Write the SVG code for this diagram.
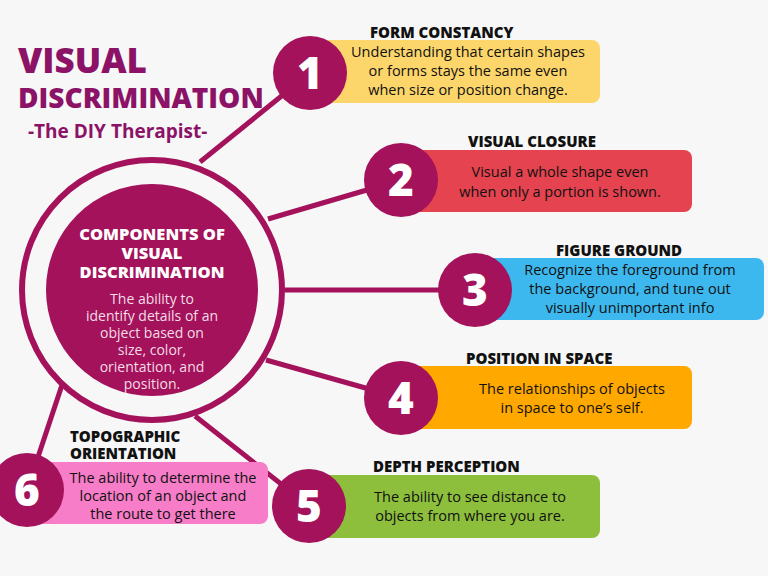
<svg xmlns="http://www.w3.org/2000/svg" width="768" height="576" viewBox="0 0 768 576">
<style>
.t{font-family:"Open Sans","Liberation Sans",sans-serif;}
.h{font-family:"Open Sans","Liberation Sans",sans-serif;font-weight:800;font-size:15px;fill:#111;}
.b{font-family:"Open Sans","Liberation Sans",sans-serif;font-size:14.5px;fill:#111;text-anchor:middle;}
.n{font-family:"Open Sans","Liberation Sans",sans-serif;font-weight:800;font-size:44px;fill:#fff;text-anchor:middle;}
.c{fill:#A3125A;}
.ln{stroke:#A3125A;stroke-width:5;fill:none;}
</style>
<rect width="768" height="576" fill="#F7F7F7"/>
<g id="title" class="t" fill="#8B1266" font-weight="800">
<text x="18" y="73" font-size="35">VISUAL</text>
<text x="18" y="108" font-size="28">DISCRIMINATION</text>
<text x="28" y="138" font-size="19" font-weight="700">-The DIY Therapist-</text>
</g>
<g id="connectors">
<line class="ln" x1="310" y1="73" x2="200" y2="162"/>
<line class="ln" x1="401" y1="180" x2="268" y2="219"/>
<line class="ln" x1="475" y1="290" x2="285" y2="290"/>
<line class="ln" x1="401" y1="398" x2="266" y2="360"/>
<line class="ln" x1="309" y1="506" x2="195" y2="416"/>
<line class="ln" x1="27" y1="490" x2="62" y2="385"/>
</g>
<g id="center">
<circle cx="152" cy="290" r="130" fill="#F7F7F7" stroke="#A3125A" stroke-width="6"/>
<circle class="c" cx="152" cy="290" r="106"/>
<text class="t" fill="#fff" font-weight="800" font-size="16.5" text-anchor="middle"><tspan x="152" y="240">COMPONENTS OF</tspan><tspan x="152" y="259">VISUAL</tspan><tspan x="152" y="278">DISCRIMINATION</tspan></text>
<text class="t" fill="#F3DCE7" font-size="14" text-anchor="middle"><tspan x="152" y="304">The ability to</tspan><tspan x="152" y="321">identify details of an</tspan><tspan x="152" y="338">object based on</tspan><tspan x="152" y="355">size, color,</tspan><tspan x="152" y="372">orientation, and</tspan><tspan x="152" y="389">position.</tspan></text>
</g>
<g id="n1">
<rect x="320" y="40" width="280" height="63" rx="8" fill="#FDD66B"/>
<text class="h" x="370" y="38">FORM CONSTANCY</text>
<text class="b"><tspan x="468" y="57">Understanding that certain shapes</tspan><tspan x="468" y="76">or forms stays the same even</tspan><tspan x="468" y="95">when size or position change.</tspan></text>
<circle class="c" cx="310" cy="73" r="37"/><text class="n" x="310" y="89">1</text>
</g>
<g id="n2">
<rect x="410" y="150" width="282" height="62" rx="8" fill="#E4434F"/>
<text class="h" x="468" y="147">VISUAL CLOSURE</text>
<text class="b"><tspan x="560" y="177">Visual a whole shape even</tspan><tspan x="560" y="197">when only a portion is shown.</tspan></text>
<circle class="c" cx="401" cy="180" r="37"/><text class="n" x="401" y="196">2</text>
</g>
<g id="n3">
<rect x="485" y="258" width="279" height="62" rx="8" fill="#3DB8EE"/>
<text class="h" x="556" y="256">FIGURE GROUND</text>
<text class="b"><tspan x="630" y="275">Recognize the foreground from</tspan><tspan x="630" y="294">the background, and tune out</tspan><tspan x="630" y="313">visually unimportant info</tspan></text>
<circle class="c" cx="475" cy="290" r="37"/><text class="n" x="475" y="306">3</text>
</g>
<g id="n4">
<rect x="410" y="366" width="282" height="63" rx="8" fill="#FFA800"/>
<text class="h" x="466" y="364">POSITION IN SPACE</text>
<text class="b"><tspan x="572" y="394">The relationships of objects</tspan><tspan x="572" y="413">in space to one’s self.</tspan></text>
<circle class="c" cx="401" cy="398" r="37"/><text class="n" x="401" y="414">4</text>
</g>
<g id="n5">
<rect x="320" y="475" width="280" height="63" rx="8" fill="#8DBF3D"/>
<text class="h" x="373" y="472">DEPTH PERCEPTION</text>
<text class="b"><tspan x="470" y="502">The ability to see distance to</tspan><tspan x="470" y="521">objects from where you are.</tspan></text>
<circle class="c" cx="309" cy="506" r="37"/><text class="n" x="309" y="522">5</text>
</g>
<g id="n6">
<rect x="35" y="462" width="233" height="62" rx="8" fill="#F77DC8"/>
<text class="h"><tspan x="70" y="442">TOPOGRAPHIC</tspan><tspan x="70" y="459">ORIENTATION</tspan></text>
<text class="b"><tspan x="163" y="483">The ability to determine the</tspan><tspan x="163" y="501">location of an object and</tspan><tspan x="163" y="519">the route to get there</tspan></text>
<circle class="c" cx="27" cy="490" r="37"/><text class="n" x="27" y="506">6</text>
</g>
</svg>
